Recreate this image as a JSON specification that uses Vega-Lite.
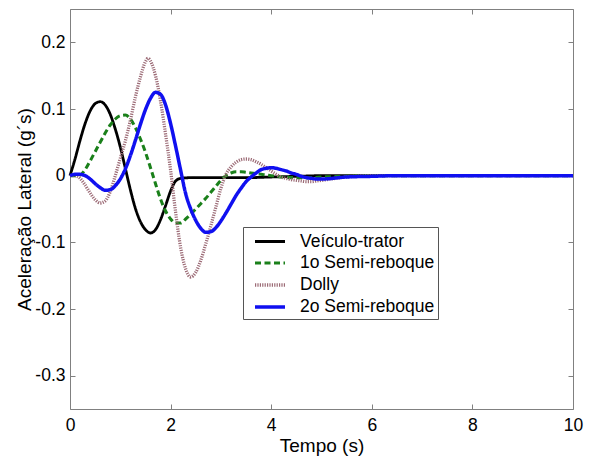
{
  "$schema": "https://vega.github.io/schema/vega-lite/v6.json",
  "width": 503,
  "height": 400,
  "autosize": "none",
  "padding": {"left": 70, "top": 9, "right": 22, "bottom": 48},
  "background": "white",
  "config": {
    "font": "Liberation Sans",
    "view": {"stroke": "#808080", "strokeWidth": 1},
    "axis": {
      "grid": false, "domain": false, "tickColor": "#808080", "tickSize": -5, "labelFlush": false,
      "labelFont": "Liberation Sans", "labelFontSize": 17.5, "labelColor": "#000",
      "titleFont": "Liberation Sans", "titleFontSize": 19, "titleFontWeight": "normal", "titleColor": "#000"
    },
    "legend": {
      "orient": "none", "legendX": 173, "legendY": 218, "title": null,
      "strokeColor": "#555", "fillColor": "white", "padding": 3,
      "symbolType": "M-1.5,0H1.5", "symbolSize": 400, "symbolOffset": 12,
      "labelFont": "Liberation Sans", "labelFontSize": 17.5, "labelColor": "#000",
      "labelOffset": 18, "rowPadding": 1
    }
  },
  "data": {"values": [
    {"serie":"Veículo-trator","t":0,"y":0},
    {"serie":"Veículo-trator","t":0.1,"y":0.025},
    {"serie":"Veículo-trator","t":0.2,"y":0.053},
    {"serie":"Veículo-trator","t":0.3,"y":0.078},
    {"serie":"Veículo-trator","t":0.4,"y":0.097},
    {"serie":"Veículo-trator","t":0.5,"y":0.108},
    {"serie":"Veículo-trator","t":0.6,"y":0.111},
    {"serie":"Veículo-trator","t":0.7,"y":0.106},
    {"serie":"Veículo-trator","t":0.8,"y":0.092},
    {"serie":"Veículo-trator","t":0.9,"y":0.070},
    {"serie":"Veículo-trator","t":1.0,"y":0.043},
    {"serie":"Veículo-trator","t":1.1,"y":0.011},
    {"serie":"Veículo-trator","t":1.2,"y":-0.021},
    {"serie":"Veículo-trator","t":1.3,"y":-0.049},
    {"serie":"Veículo-trator","t":1.4,"y":-0.069},
    {"serie":"Veículo-trator","t":1.5,"y":-0.081},
    {"serie":"Veículo-trator","t":1.6,"y":-0.086},
    {"serie":"Veículo-trator","t":1.7,"y":-0.081},
    {"serie":"Veículo-trator","t":1.8,"y":-0.066},
    {"serie":"Veículo-trator","t":1.9,"y":-0.045},
    {"serie":"Veículo-trator","t":2.0,"y":-0.023},
    {"serie":"Veículo-trator","t":2.1,"y":-0.008},
    {"serie":"Veículo-trator","t":2.2,"y":-0.004},
    {"serie":"Veículo-trator","t":2.4,"y":-0.003},
    {"serie":"Veículo-trator","t":2.7,"y":-0.003},
    {"serie":"Veículo-trator","t":3.0,"y":-0.003},
    {"serie":"Veículo-trator","t":3.5,"y":-0.003},
    {"serie":"Veículo-trator","t":4.0,"y":-0.002},
    {"serie":"Veículo-trator","t":4.5,"y":-0.001},
    {"serie":"Veículo-trator","t":5.0,"y":0},
    {"serie":"Veículo-trator","t":7.0,"y":0},
    {"serie":"Veículo-trator","t":10,"y":0},

    {"serie":"1o Semi-reboque","t":0,"y":0},
    {"serie":"1o Semi-reboque","t":0.1,"y":0},
    {"serie":"1o Semi-reboque","t":0.2,"y":0.001},
    {"serie":"1o Semi-reboque","t":0.3,"y":0.009},
    {"serie":"1o Semi-reboque","t":0.4,"y":0.022},
    {"serie":"1o Semi-reboque","t":0.5,"y":0.036},
    {"serie":"1o Semi-reboque","t":0.6,"y":0.050},
    {"serie":"1o Semi-reboque","t":0.7,"y":0.064},
    {"serie":"1o Semi-reboque","t":0.8,"y":0.076},
    {"serie":"1o Semi-reboque","t":0.9,"y":0.085},
    {"serie":"1o Semi-reboque","t":1.0,"y":0.090},
    {"serie":"1o Semi-reboque","t":1.1,"y":0.091},
    {"serie":"1o Semi-reboque","t":1.2,"y":0.085},
    {"serie":"1o Semi-reboque","t":1.3,"y":0.072},
    {"serie":"1o Semi-reboque","t":1.4,"y":0.055},
    {"serie":"1o Semi-reboque","t":1.5,"y":0.035},
    {"serie":"1o Semi-reboque","t":1.6,"y":0.012},
    {"serie":"1o Semi-reboque","t":1.7,"y":-0.012},
    {"serie":"1o Semi-reboque","t":1.8,"y":-0.035},
    {"serie":"1o Semi-reboque","t":1.9,"y":-0.053},
    {"serie":"1o Semi-reboque","t":2.0,"y":-0.065},
    {"serie":"1o Semi-reboque","t":2.1,"y":-0.071},
    {"serie":"1o Semi-reboque","t":2.2,"y":-0.071},
    {"serie":"1o Semi-reboque","t":2.3,"y":-0.065},
    {"serie":"1o Semi-reboque","t":2.4,"y":-0.058},
    {"serie":"1o Semi-reboque","t":2.5,"y":-0.050},
    {"serie":"1o Semi-reboque","t":2.6,"y":-0.042},
    {"serie":"1o Semi-reboque","t":2.7,"y":-0.034},
    {"serie":"1o Semi-reboque","t":2.8,"y":-0.025},
    {"serie":"1o Semi-reboque","t":2.9,"y":-0.016},
    {"serie":"1o Semi-reboque","t":3.0,"y":-0.007},
    {"serie":"1o Semi-reboque","t":3.1,"y":0.0},
    {"serie":"1o Semi-reboque","t":3.2,"y":0.004},
    {"serie":"1o Semi-reboque","t":3.3,"y":0.006},
    {"serie":"1o Semi-reboque","t":3.4,"y":0.006},
    {"serie":"1o Semi-reboque","t":3.5,"y":0.005},
    {"serie":"1o Semi-reboque","t":3.6,"y":0.004},
    {"serie":"1o Semi-reboque","t":3.7,"y":0.003},
    {"serie":"1o Semi-reboque","t":3.8,"y":0.002},
    {"serie":"1o Semi-reboque","t":3.9,"y":0.001},
    {"serie":"1o Semi-reboque","t":4.0,"y":0.0},
    {"serie":"1o Semi-reboque","t":4.2,"y":-0.002},
    {"serie":"1o Semi-reboque","t":4.5,"y":-0.003},
    {"serie":"1o Semi-reboque","t":4.8,"y":-0.003},
    {"serie":"1o Semi-reboque","t":5.0,"y":-0.002},
    {"serie":"1o Semi-reboque","t":5.5,"y":-0.001},
    {"serie":"1o Semi-reboque","t":6.0,"y":0},
    {"serie":"1o Semi-reboque","t":10,"y":0},

    {"serie":"Dolly","t":0,"y":0},
    {"serie":"Dolly","t":0.1,"y":0},
    {"serie":"Dolly","t":0.2,"y":-0.004},
    {"serie":"Dolly","t":0.3,"y":-0.014},
    {"serie":"Dolly","t":0.4,"y":-0.026},
    {"serie":"Dolly","t":0.5,"y":-0.036},
    {"serie":"Dolly","t":0.6,"y":-0.041},
    {"serie":"Dolly","t":0.7,"y":-0.038},
    {"serie":"Dolly","t":0.8,"y":-0.024},
    {"serie":"Dolly","t":0.9,"y":0.0},
    {"serie":"Dolly","t":1.0,"y":0.026},
    {"serie":"Dolly","t":1.1,"y":0.052},
    {"serie":"Dolly","t":1.2,"y":0.083},
    {"serie":"Dolly","t":1.3,"y":0.118},
    {"serie":"Dolly","t":1.4,"y":0.148},
    {"serie":"Dolly","t":1.5,"y":0.171},
    {"serie":"Dolly","t":1.55,"y":0.176},
    {"serie":"Dolly","t":1.6,"y":0.172},
    {"serie":"Dolly","t":1.7,"y":0.150},
    {"serie":"Dolly","t":1.8,"y":0.112},
    {"serie":"Dolly","t":1.9,"y":0.062},
    {"serie":"Dolly","t":2.0,"y":0.008},
    {"serie":"Dolly","t":2.1,"y":-0.055},
    {"serie":"Dolly","t":2.2,"y":-0.108},
    {"serie":"Dolly","t":2.3,"y":-0.140},
    {"serie":"Dolly","t":2.4,"y":-0.152},
    {"serie":"Dolly","t":2.5,"y":-0.145},
    {"serie":"Dolly","t":2.6,"y":-0.127},
    {"serie":"Dolly","t":2.7,"y":-0.102},
    {"serie":"Dolly","t":2.8,"y":-0.075},
    {"serie":"Dolly","t":2.9,"y":-0.047},
    {"serie":"Dolly","t":3.0,"y":-0.019},
    {"serie":"Dolly","t":3.1,"y":0.002},
    {"serie":"Dolly","t":3.2,"y":0.013},
    {"serie":"Dolly","t":3.3,"y":0.020},
    {"serie":"Dolly","t":3.4,"y":0.024},
    {"serie":"Dolly","t":3.5,"y":0.025},
    {"serie":"Dolly","t":3.6,"y":0.024},
    {"serie":"Dolly","t":3.7,"y":0.021},
    {"serie":"Dolly","t":3.8,"y":0.017},
    {"serie":"Dolly","t":3.9,"y":0.012},
    {"serie":"Dolly","t":4.0,"y":0.007},
    {"serie":"Dolly","t":4.1,"y":0.002},
    {"serie":"Dolly","t":4.2,"y":-0.002},
    {"serie":"Dolly","t":4.3,"y":-0.004},
    {"serie":"Dolly","t":4.4,"y":-0.006},
    {"serie":"Dolly","t":4.5,"y":-0.007},
    {"serie":"Dolly","t":4.6,"y":-0.008},
    {"serie":"Dolly","t":4.7,"y":-0.009},
    {"serie":"Dolly","t":4.8,"y":-0.009},
    {"serie":"Dolly","t":4.9,"y":-0.008},
    {"serie":"Dolly","t":5.0,"y":-0.007},
    {"serie":"Dolly","t":5.5,"y":-0.002},
    {"serie":"Dolly","t":6.0,"y":0},
    {"serie":"Dolly","t":10,"y":0},

    {"serie":"2o Semi-reboque","t":0,"y":0},
    {"serie":"2o Semi-reboque","t":0.1,"y":0.002},
    {"serie":"2o Semi-reboque","t":0.2,"y":0.002},
    {"serie":"2o Semi-reboque","t":0.3,"y":0.0},
    {"serie":"2o Semi-reboque","t":0.4,"y":-0.005},
    {"serie":"2o Semi-reboque","t":0.5,"y":-0.012},
    {"serie":"2o Semi-reboque","t":0.6,"y":-0.018},
    {"serie":"2o Semi-reboque","t":0.7,"y":-0.022},
    {"serie":"2o Semi-reboque","t":0.8,"y":-0.021},
    {"serie":"2o Semi-reboque","t":0.9,"y":-0.015},
    {"serie":"2o Semi-reboque","t":1.0,"y":-0.005},
    {"serie":"2o Semi-reboque","t":1.1,"y":0.010},
    {"serie":"2o Semi-reboque","t":1.2,"y":0.030},
    {"serie":"2o Semi-reboque","t":1.3,"y":0.053},
    {"serie":"2o Semi-reboque","t":1.4,"y":0.077},
    {"serie":"2o Semi-reboque","t":1.5,"y":0.099},
    {"serie":"2o Semi-reboque","t":1.6,"y":0.116},
    {"serie":"2o Semi-reboque","t":1.7,"y":0.125},
    {"serie":"2o Semi-reboque","t":1.8,"y":0.122},
    {"serie":"2o Semi-reboque","t":1.9,"y":0.106},
    {"serie":"2o Semi-reboque","t":2.0,"y":0.078},
    {"serie":"2o Semi-reboque","t":2.1,"y":0.044},
    {"serie":"2o Semi-reboque","t":2.2,"y":0.008},
    {"serie":"2o Semi-reboque","t":2.3,"y":-0.027},
    {"serie":"2o Semi-reboque","t":2.4,"y":-0.050},
    {"serie":"2o Semi-reboque","t":2.5,"y":-0.067},
    {"serie":"2o Semi-reboque","t":2.6,"y":-0.079},
    {"serie":"2o Semi-reboque","t":2.7,"y":-0.085},
    {"serie":"2o Semi-reboque","t":2.8,"y":-0.084},
    {"serie":"2o Semi-reboque","t":2.9,"y":-0.078},
    {"serie":"2o Semi-reboque","t":3.0,"y":-0.068},
    {"serie":"2o Semi-reboque","t":3.1,"y":-0.056},
    {"serie":"2o Semi-reboque","t":3.2,"y":-0.043},
    {"serie":"2o Semi-reboque","t":3.3,"y":-0.030},
    {"serie":"2o Semi-reboque","t":3.4,"y":-0.019},
    {"serie":"2o Semi-reboque","t":3.5,"y":-0.009},
    {"serie":"2o Semi-reboque","t":3.6,"y":-0.002},
    {"serie":"2o Semi-reboque","t":3.7,"y":0.004},
    {"serie":"2o Semi-reboque","t":3.8,"y":0.009},
    {"serie":"2o Semi-reboque","t":3.9,"y":0.011},
    {"serie":"2o Semi-reboque","t":4.0,"y":0.012},
    {"serie":"2o Semi-reboque","t":4.1,"y":0.011},
    {"serie":"2o Semi-reboque","t":4.2,"y":0.009},
    {"serie":"2o Semi-reboque","t":4.3,"y":0.007},
    {"serie":"2o Semi-reboque","t":4.4,"y":0.004},
    {"serie":"2o Semi-reboque","t":4.5,"y":0.002},
    {"serie":"2o Semi-reboque","t":4.6,"y":-0.001},
    {"serie":"2o Semi-reboque","t":4.7,"y":-0.003},
    {"serie":"2o Semi-reboque","t":4.8,"y":-0.004},
    {"serie":"2o Semi-reboque","t":4.9,"y":-0.005},
    {"serie":"2o Semi-reboque","t":5.0,"y":-0.005},
    {"serie":"2o Semi-reboque","t":5.5,"y":-0.002},
    {"serie":"2o Semi-reboque","t":6.0,"y":-0.001},
    {"serie":"2o Semi-reboque","t":6.5,"y":0},
    {"serie":"2o Semi-reboque","t":10,"y":0}
  ]},
  "layer": [
    {
      "mark": {"type": "line", "interpolate": "monotone"},
      "encoding": {
        "x": {"field": "t", "type": "quantitative",
              "scale": {"domain": [0, 10], "nice": false},
              "axis": {"orient": "bottom", "values": [0, 2, 4, 6, 8, 10], "title": "Tempo (s)", "labelPadding": 12, "titlePadding": 3}},
        "y": {"field": "y", "type": "quantitative",
              "scale": {"domain": [-0.35, 0.25], "nice": false, "zero": false},
              "axis": {"orient": "left", "values": [-0.3, -0.2, -0.1, 0, 0.1, 0.2],
                       "labelExpr": "replace(format(datum.value, '.1~f'), '\u2212', '-')",
                       "title": "Aceleração Lateral (g´s)", "labelPadding": 10, "titlePadding": 0}},
        "color": {"field": "serie", "type": "nominal",
                  "scale": {"domain": ["Veículo-trator", "1o Semi-reboque", "Dolly", "2o Semi-reboque"],
                            "range": ["#000000", "#1a801a", "#9c6b76", "#1010f0"]},
                  "legend": {"title": null}},
        "strokeDash": {"field": "serie", "type": "nominal",
                  "scale": {"domain": ["Veículo-trator", "1o Semi-reboque", "Dolly", "2o Semi-reboque"],
                            "range": [[1, 0], [6, 3.5], [1.2, 1.2], [1, 0]]},
                  "legend": {"title": null}},
        "strokeWidth": {"field": "serie", "type": "nominal",
                  "scale": {"domain": ["Veículo-trator", "1o Semi-reboque", "Dolly", "2o Semi-reboque"],
                            "range": [2.8, 3.5, 2.2, 3]},
                  "legend": {"title": null}}
      }
    },
    {
      "mark": {"type": "point", "opacity": 0},
      "encoding": {
        "x": {"field": "t", "type": "quantitative",
              "axis": {"orient": "top", "values": [0, 2, 4, 6, 8, 10], "labels": false, "title": null}},
        "y": {"field": "y", "type": "quantitative",
              "axis": {"orient": "right", "values": [-0.3, -0.2, -0.1, 0, 0.1, 0.2], "labels": false, "title": null}}
      }
    }
  ],
  "resolve": {"axis": {"x": "independent", "y": "independent"}}
}
